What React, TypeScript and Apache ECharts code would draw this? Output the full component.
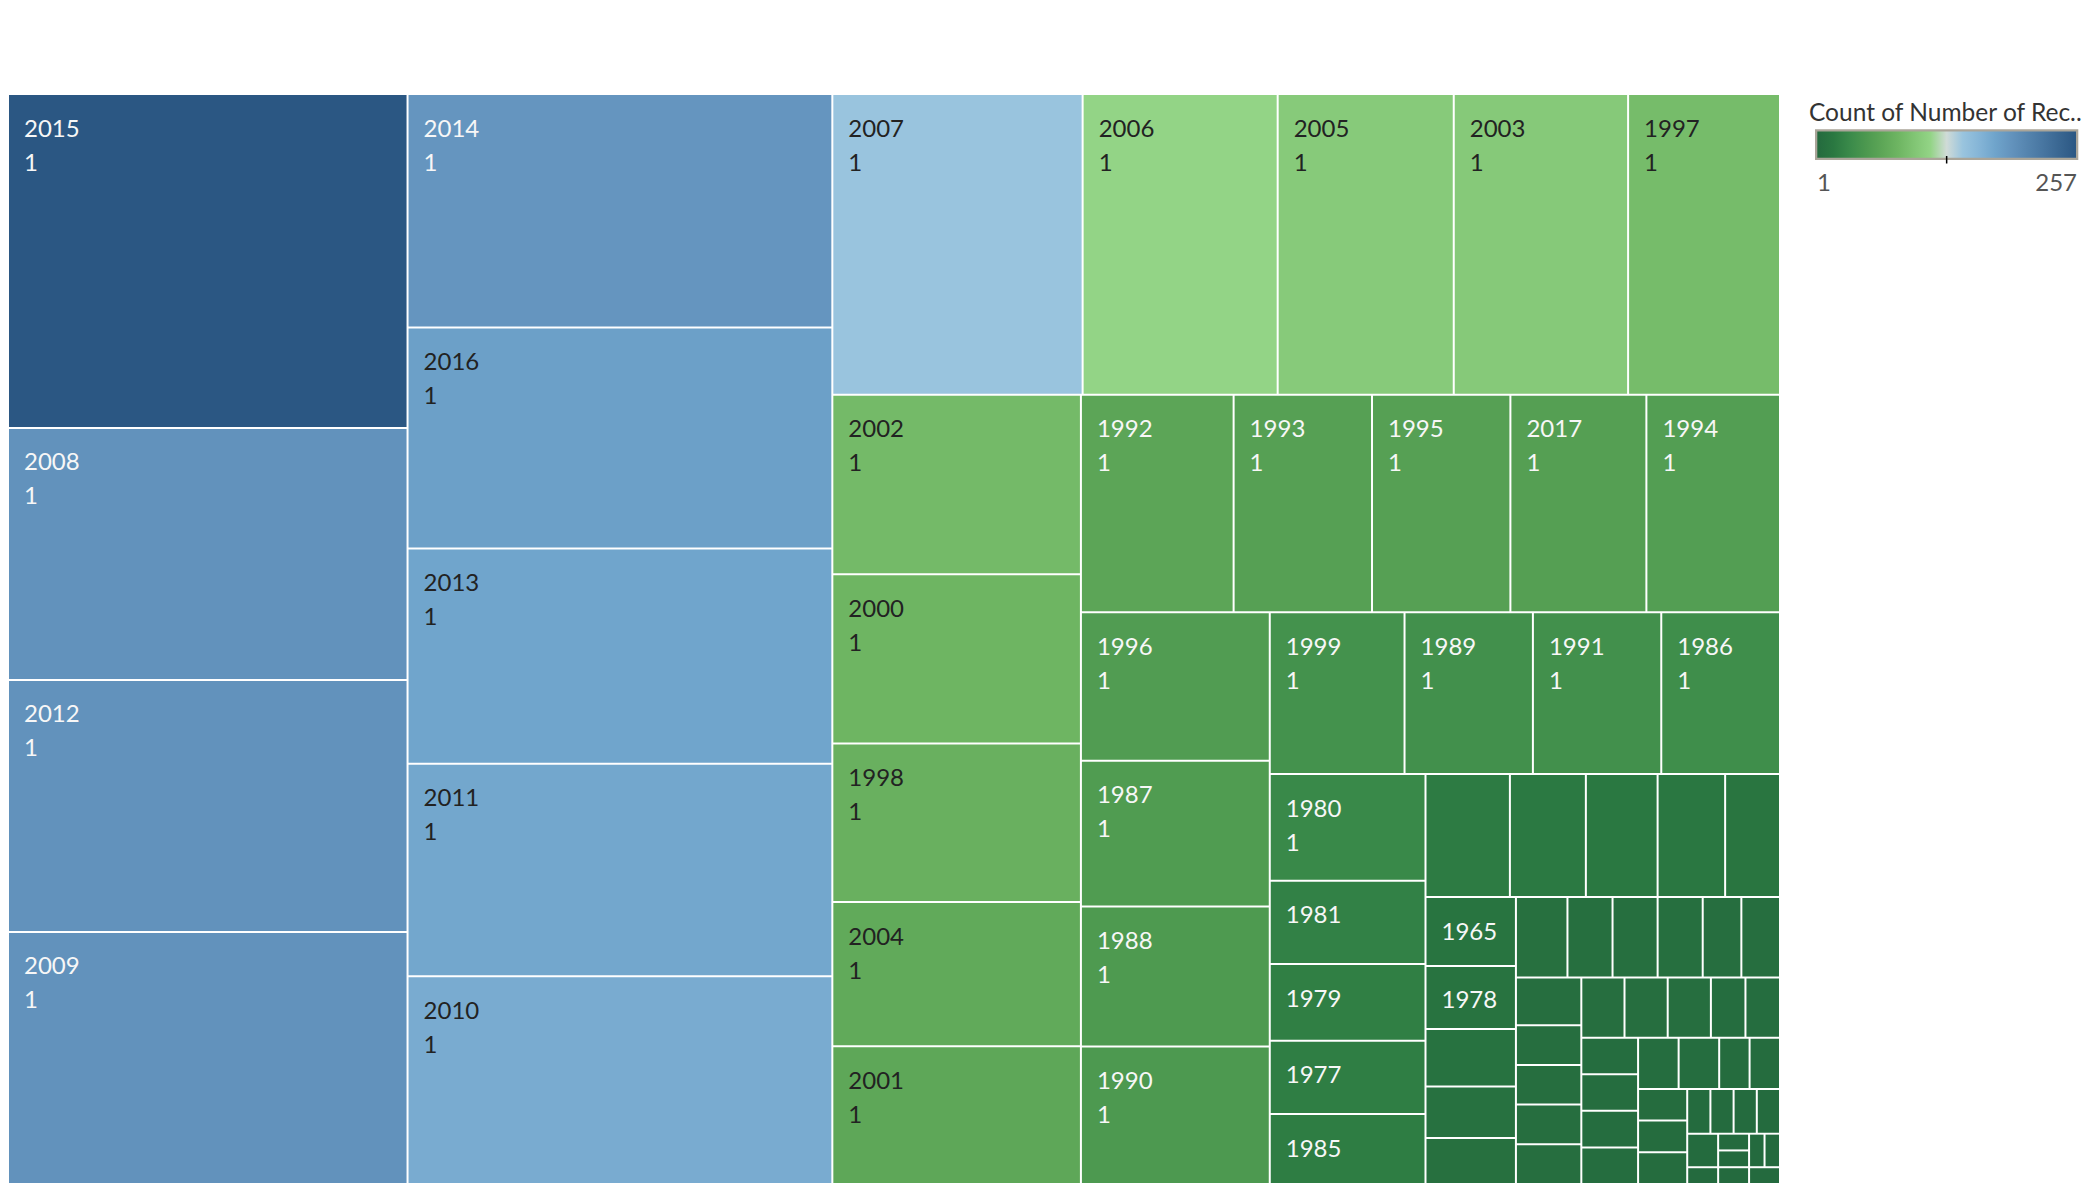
import React, { useEffect, useRef } from "react";
import * as echarts from "echarts";

// Tableau order (descending by count)
const years = [
  "2015", "2008", "2012", "2009", "2014", "2016", "2013", "2011", "2010", "2007",
  "2006", "2005", "2003", "1997", "2002", "2000", "1998", "2004", "2001", "1992",
  "1993", "1995", "2017", "1994", "1996", "1987", "1988", "1990", "1999", "1989",
  "1991", "1986", "1980", "1981", "1979", "1977", "1985", "1984", "1983", "1982",
  "1976", "1975", "1965", "1978", "1974", "1973", "1972", "1971", "1970", "1969",
  "1968", "1967", "1966", "1964", "1963", "1962", "1961", "1960", "1959", "1958",
  "1957", "1956", "1955", "1954", "1953", "1952", "1951", "1950", "1949", "1948",
  "1947", "1946", "1945", "1944", "1943", "1942", "1941", "1940", "1939", "1938",
  "1937", "1936", "1935", "1934", "1933", "1932",
];

const counts = [
  257, 194, 194, 194, 191, 181, 176, 174, 170, 145,
  113, 102, 101, 88, 86, 81, 76, 69, 66, 64,
  58, 58, 57, 56, 54, 53, 51, 50, 42, 40,
  40, 37, 32, 25, 23, 22, 21, 20, 18, 17,
  16, 13, 12, 11, 10, 9, 8, 8, 7, 7,
  7, 6, 6, 6, 5, 5, 5, 5, 5, 5,
  5, 4, 4, 4, 4, 4, 4, 4, 4, 3,
  3, 3, 3, 3, 2, 2, 2, 2, 2, 1,
  1, 1, 1, 1, 1, 1,
];

// second label line (measure shown under the year)
const measure = [
  1, 1, 1, 1, 1, 1, 1, 1, 1, 1,
  1, 1, 1, 1, 1, 1, 1, 1, 1, 1,
  1, 1, 1, 1, 1, 1, 1, 1, 1, 1,
  1, 1, 1, 1, 1, 1, 1, 1, 1, 1,
  1, 1, 1, 1, 1, 1, 1, 1, 1, 1,
  1, 1, 1, 1, 1, 1, 1, 1, 1, 1,
  1, 1, 1, 1, 1, 1, 1, 1, 1, 1,
  1, 1, 1, 1, 1, 1, 1, 1, 1, 1,
  1, 1, 1, 1, 1, 1,
];

// cells that carry a label in the reference
const labeledYears = [
  "2015", "2008", "2012", "2009", "2014", "2016", "2013", "2011", "2010", "2007",
  "2006", "2005", "2003", "1997", "2002", "2000", "1998", "2004", "2001", "1992",
  "1993", "1995", "2017", "1994", "1996", "1987", "1988", "1990", "1999", "1989",
  "1991", "1986", "1980", "1981", "1979", "1977", "1985", "1965", "1978",
];

// Green-Blue diverging palette, evenly spaced from min to max
const paletteStops = [
  "#246a3e", "#2a7841", "#3a8a4a", "#4c984f", "#5da657", "#6eb562", "#81c574",
  "#93d486", "#d0dbd7", "#99c4de", "#85b5d7", "#6fa4cb", "#6393bd", "#5584ae",
  "#4775a0", "#396691", "#2b5783",
];

const legendTitle = "Count of Number of Rec..";
const legendMin = 1;
const legendMax = 257;

export default function App() {
  const ref = useRef<HTMLDivElement>(null);

  useEffect(() => {
    if (!ref.current) return;
    const chart = echarts.init(ref.current, null, { renderer: "svg" });
    const labeled = new Set(labeledYears);

    const data = years.map((y, i) => {
      const v = counts[i];
      const darkText = v >= 65 && v <= 185;
      return {
        name: y,
        value: v,
        measure: measure[i],
        label: labeled.has(y)
          ? { show: true, color: darkText ? "#222222" : "#f7f7f7" }
          : { show: false },
      };
    });

    const gradStops = paletteStops.map((c, i) => ({
      offset: i / (paletteStops.length - 1),
      color: c,
    }));

    const barX = 1815;
    const barY = 129.3;
    const barW = 263.3;
    const barH = 30.7;

    chart.setOption({
      animation: false,
      backgroundColor: "#ffffff",
      series: [
        {
          type: "treemap",
          left: 9,
          top: 95,
          width: 1770,
          height: 1088,
          roam: false,
          nodeClick: false,
          sort: false,
          visibleMin: 0,
          breadcrumb: { show: false },
          label: {
            show: true,
            position: "insideTopLeft",
            distance: 0,
            padding: [15, 4, 4, 15],
            fontFamily: "Lato",
            fontWeight: "normal",
            fontSize: 24,
            lineHeight: 34,
            formatter: (p: any) => `${p.name}\n${p.data.measure}`,
          },
          upperLabel: { show: false },
          itemStyle: { borderWidth: 0, gapWidth: 0, borderColor: "#ffffff" },
          emphasis: { disabled: true },
          levels: [
            {
              color: paletteStops,
              colorMappingBy: "value",
              visualMin: legendMin,
              visualMax: legendMax,
              itemStyle: { borderWidth: 0, gapWidth: 2, borderColor: "#ffffff" },
            },
            { itemStyle: { borderWidth: 0, gapWidth: 0 } },
          ],
          data,
        },
      ],
      graphic: {
        elements: [
          {
            type: "text",
            x: 1809,
            y: 99,
            style: {
              text: legendTitle,
              fill: "#333333",
              fontSize: 24.5,
              fontFamily: "Lato",
              align: "left",
              verticalAlign: "top",
            },
          },
          {
            type: "rect",
            shape: { x: barX, y: barY, width: barW, height: barH },
            style: { fill: "#aaa599" },
          },
          {
            type: "rect",
            shape: { x: barX + 2.3, y: barY + 2.3, width: barW - 4.6, height: barH - 4.6 },
            style: { fill: new echarts.graphic.LinearGradient(0, 0, 1, 0, gradStops) },
          },
          {
            type: "line",
            shape: { x1: barX + barW / 2, y1: barY + barH - 4, x2: barX + barW / 2, y2: barY + barH + 3.5 },
            style: { stroke: "#000000", lineWidth: 1.5 },
          },
          {
            type: "text",
            x: 1817,
            y: 169,
            style: {
              text: String(legendMin),
              fill: "#555555",
              fontSize: 24,
              fontFamily: "Lato",
              align: "left",
              verticalAlign: "top",
            },
          },
          {
            type: "text",
            x: 2077,
            y: 169,
            style: {
              text: String(legendMax),
              fill: "#555555",
              fontSize: 24,
              fontFamily: "Lato",
              align: "right",
              verticalAlign: "top",
            },
          },
        ],
      },
    });

    return () => chart.dispose();
  }, []);

  return (
    <div
      ref={ref}
      style={{ position: "fixed", left: 0, top: 0, width: 2088, height: 1192, background: "#ffffff" }}
    />
  );
}
